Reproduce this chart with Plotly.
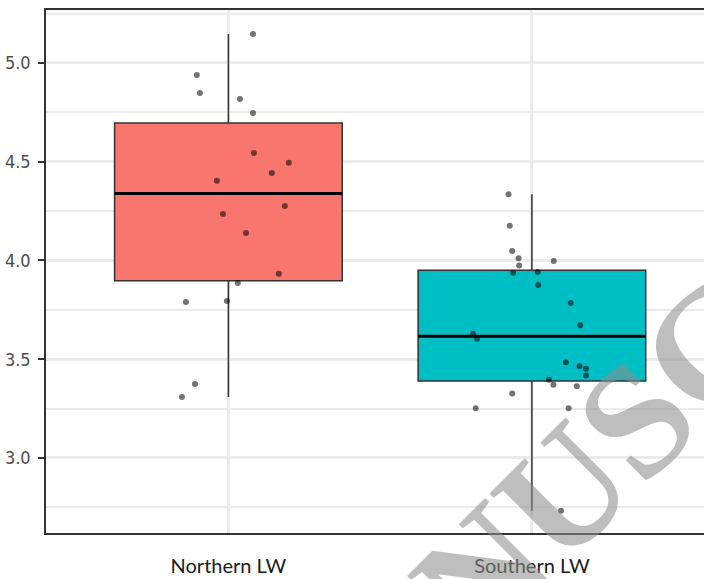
import numpy as np
import plotly.graph_objects as go

categories = ["Northern LW", "Southern LW"]

north_values = [5.147, 4.939, 4.848, 4.818, 4.747, 4.544, 4.494, 4.403, 4.443,
                4.235, 4.276, 4.139, 3.932, 3.886, 3.790, 3.795, 3.375, 3.309]
north_jitter = [0.081, -0.104, -0.094, 0.038, 0.081, 0.084, 0.199, -0.038, 0.143,
                -0.018, 0.186, 0.058, 0.166, 0.031, -0.140, -0.005, -0.110, -0.153]

south_values = [4.335, 4.176, 4.048, 4.011, 3.974, 3.997, 3.938, 3.942, 3.876,
                3.785, 3.672, 3.629, 3.604, 3.485, 3.464, 3.452, 3.418, 3.396,
                3.370, 3.363, 3.326, 3.252, 3.252, 2.733]
south_jitter = [-0.077, -0.073, -0.065, -0.044, -0.042, 0.072, -0.062, 0.019, 0.021,
                0.128, 0.159, -0.194, -0.181, 0.112, 0.157, 0.178, 0.178, 0.056,
                0.071, 0.148, -0.065, -0.185, 0.121, 0.096]

y_ticks = [3.0, 3.5, 4.0, 4.5, 5.0]
y_tick_labels = ["3.0", "3.5", "4.0", "4.5", "5.0"]

watermark = "ACCEPTED MANUSCRIPT"

fills = ["#F8766D", "#00BFC4"]
BOX_W = 0.75

fig = go.Figure()

groups = [north_values, south_values]
jitters = [north_jitter, south_jitter]

stats = []
for i, vals in enumerate(groups):
    arr = np.array(vals)
    q1, med, q3 = np.percentile(arr, [25, 50, 75])
    iqr = q3 - q1
    lo = arr[arr >= q1 - 1.5 * iqr].min()
    hi = arr[arr <= q3 + 1.5 * iqr].max()
    stats.append((q1, med, q3, lo, hi))
    fig.add_trace(go.Box(
        x=[i], q1=[q1], median=[med], q3=[q3], lowerfence=[lo], upperfence=[hi],
        width=BOX_W, fillcolor=fills[i], line=dict(color="#333333", width=1.5),
        whiskerwidth=0, boxpoints=False, showlegend=False, hoverinfo="skip",
    ))

for i, (q1, med, q3, lo, hi) in enumerate(stats):
    fig.add_trace(go.Scatter(
        x=[i - BOX_W / 2, i + BOX_W / 2], y=[med, med], mode="lines",
        line=dict(color="#000000", width=3), showlegend=False, hoverinfo="skip",
    ))

for i, (vals, jit) in enumerate(zip(groups, jitters)):
    fig.add_trace(go.Scatter(
        x=[i + j for j in jit], y=vals, mode="markers",
        marker=dict(color="rgba(0,0,0,0.55)", size=6, line=dict(width=0)),
        showlegend=False, hoverinfo="skip",
    ))

fig.update_layout(
    width=704, height=579,
    margin=dict(l=46, r=0, t=10, b=46, autoexpand=False),
    paper_bgcolor="white", plot_bgcolor="white",
    boxmode="overlay",
    xaxis=dict(
        range=[-0.601, 1.567], tickvals=[0, 1], ticktext=categories,
        showgrid=True, gridcolor="#EBEBEB", gridwidth=2.5,
        zeroline=False, showline=True, linecolor="#333333", linewidth=1.5,
        mirror=True, ticks="", ticklabelstandoff=14, automargin=False,
        tickfont=dict(family="Lato, Open Sans, sans-serif", size=20, color="#1A1A1A"),
    ),
    yaxis=dict(
        range=[2.620, 5.268], tickvals=y_ticks, ticktext=y_tick_labels,
        showgrid=True, gridcolor="#EBEBEB", gridwidth=2.5,
        minor=dict(dtick=0.5, tick0=2.75, showgrid=True, gridcolor="#EBEBEB", gridwidth=2),
        zeroline=False, showline=True, linecolor="#333333", linewidth=1.5,
        ticks="outside", ticklen=6, tickwidth=2, tickcolor="#333333", automargin=False,
        ticklabelstandoff=4,
        tickfont=dict(family="Liberation Sans Narrow, Arial Narrow, DejaVu Sans Condensed, Liberation Sans, sans-serif",
                      size=18, color="#4D4D4D"),
    ),
    annotations=[dict(
        text="<b>" + watermark + "</b>", xref="paper", yref="paper",
        x=0.4027, y=-0.4034, xanchor="center", yanchor="middle",
        textangle=-45, showarrow=False,
        font=dict(family="Liberation Serif, serif", size=160, color="rgba(140,140,140,0.57)"),
    )],
)

fig.write_html("out.html", config={"displayModeBar": False},
               post_script="document.body.style.margin='0px';")
